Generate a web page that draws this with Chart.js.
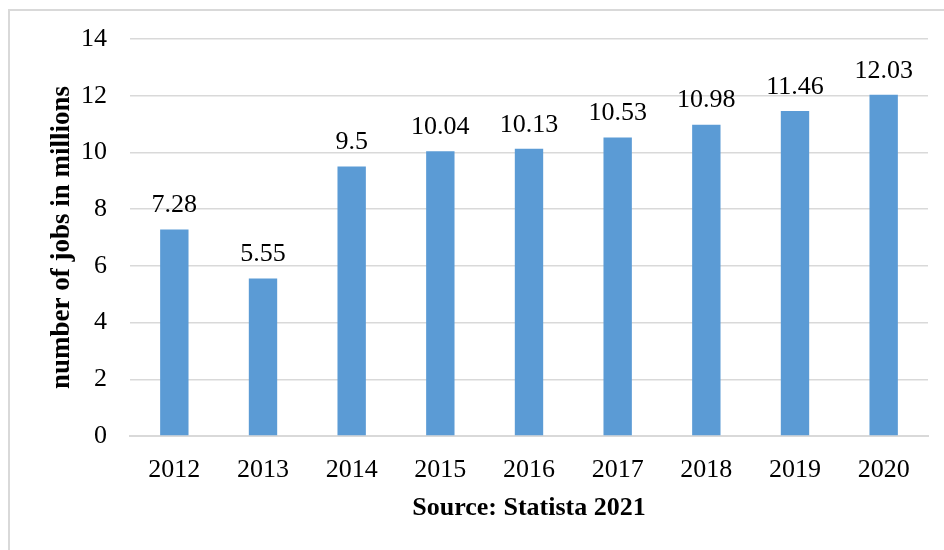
<!DOCTYPE html>
<html>
<head>
<meta charset="utf-8">
<script src="https://cdn.jsdelivr.net/npm/chart.js@4/dist/chart.umd.min.js"></script>
<style>
  html, body { margin: 0; padding: 0; background: #fff; }
  #wrap { width: 944px; height: 550px; }
</style>
</head>
<body>
<div id="wrap"><canvas id="jobs" width="944" height="550"></canvas></div>
<script>
const years = ['2012', '2013', '2014', '2015', '2016', '2017', '2018', '2019', '2020'];
const jobsMillions = [7.28, 5.55, 9.5, 10.04, 10.13, 10.53, 10.98, 11.46, 12.03];
const valueLabels = ['7.28', '5.55', '9.5', '10.04', '10.13', '10.53', '10.98', '11.46', '12.03'];
const yTicks = [0, 2, 4, 6, 8, 10, 12, 14];

const SERIF = '"Liberation Serif", "Times New Roman", serif';
const GRID = '#d9d9d9';

// frame lines along the top and left edge of the figure
const framePlugin = {
  id: 'frame',
  beforeDraw(chart) {
    const ctx = chart.ctx;
    ctx.save();
    ctx.strokeStyle = GRID;
    ctx.lineWidth = 2;
    ctx.beginPath();
    ctx.moveTo(9, 550);
    ctx.lineTo(9, 10);
    ctx.lineTo(944, 10);
    ctx.stroke();
    ctx.restore();
  }
};

// value labels above every bar
const valueLabelPlugin = {
  id: 'valueLabels',
  afterDatasetsDraw(chart) {
    const ctx = chart.ctx;
    const meta = chart.getDatasetMeta(0);
    ctx.save();
    ctx.font = '26px ' + SERIF;
    ctx.fillStyle = '#000';
    ctx.textAlign = 'center';
    ctx.textBaseline = 'middle';
    meta.data.forEach((bar, i) => {
      ctx.fillText(valueLabels[i], bar.x, bar.y - 24);
    });
    ctx.restore();
  }
};

new Chart(document.getElementById('jobs'), {
  type: 'bar',
  data: {
    labels: years,
    datasets: [{
      data: jobsMillions,
      backgroundColor: '#5b9bd5',
      borderWidth: 0,
      categoryPercentage: 1,
      barPercentage: 0.32
    }]
  },
  options: {
    responsive: false,
    animation: false,
    layout: { padding: { left: 8, right: 16, top: 39, bottom: 0 } },
    plugins: {
      legend: { display: false },
      tooltip: { enabled: false }
    },
    scales: {
      x: {
        grid: { display: false, drawTicks: false },
        border: { color: GRID, width: 2 },
        ticks: { color: '#000', font: { family: SERIF, size: 26 }, padding: 19 },
        title: {
          display: true,
          text: 'Source: Statista 2021',
          color: '#000',
          font: { family: SERIF, size: 26, weight: 'bold' },
          padding: { top: 0, bottom: 26 }
        },
        afterFit(scale) { scale.height = 114; }
      },
      y: {
        min: 0,
        max: 14,
        afterBuildTicks(scale) { scale.ticks = yTicks.map(v => ({ value: v })); },
        grid: { color: GRID, lineWidth: 1.5, drawTicks: false },
        border: { display: false },
        ticks: { color: '#000', font: { family: SERIF, size: 26 }, padding: 23 },
        title: {
          display: true,
          text: 'number of jobs in millions',
          color: '#000',
          font: { family: SERIF, size: 27, weight: 'bold' },
          padding: { top: 38, bottom: 0 }
        },
        afterFit(scale) { scale.width = 122; }
      }
    }
  },
  plugins: [framePlugin, valueLabelPlugin]
});
</script>
</body>
</html>
